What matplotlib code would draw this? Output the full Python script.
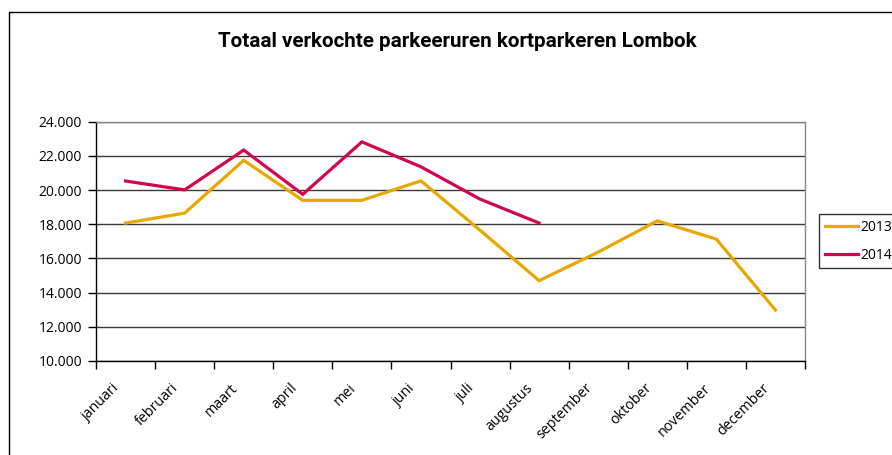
import matplotlib
matplotlib.use("Agg")
import matplotlib.pyplot as plt
from matplotlib.patches import Rectangle
from matplotlib.ticker import FuncFormatter, FixedLocator
from matplotlib.transforms import ScaledTranslation

months = ["januari", "februari", "maart", "april", "mei", "juni", "juli",
          "augustus", "september", "oktober", "november", "december"]
v2013 = [18070, 18650, 21740, 19400, 19400, 20540, 17650, 14700, 16370, 18200, 17130, 12980]
v2014 = [20530, 20010, 22340, 19750, 22820, 21360, 19470, 18070]
yticks = [10000, 12000, 14000, 16000, 18000, 20000, 22000, 24000]
title = "Totaal verkochte parkeeruren kortparkeren Lombok"

c2013 = "#E9A800"
c2014 = "#D2064F"

plt.rcParams['font.family'] = ['Open Sans', 'DejaVu Sans']

fig = plt.figure(figsize=(8.92, 4.55), dpi=100)
W, H = 892, 455
ax = fig.add_axes([96 / W, (H - 361) / H, (805 - 96) / W, (361 - 121.7) / H])

x = list(range(len(months)))
ax.plot(x, v2013, color=c2013, lw=2.3, label="2013", solid_joinstyle='miter')
ax.plot(x[:len(v2014)], v2014, color=c2014, lw=2.3, label="2014", solid_joinstyle='miter')

ax.set_xlim(-0.5, len(months) - 0.5)
ax.set_ylim(10000, 24000)
ax.set_yticks(yticks)
ax.yaxis.set_major_formatter(FuncFormatter(lambda v, p: f"{int(v):,}".replace(",", ".")))
ax.grid(axis='y', color='#3a3a3a', lw=1)
ax.set_axisbelow(True)

ax.set_xticks(x)
ax.set_xticklabels(months, rotation=45, ha='right', va='center', rotation_mode='anchor')
ax.xaxis.set_minor_locator(FixedLocator([i - 0.5 for i in range(len(months) + 1)]))
ax.tick_params(axis='x', which='major', length=0, pad=18, labelsize=10.3)
ax.tick_params(axis='x', which='minor', length=6, width=1, color='black', direction='out')
ax.tick_params(axis='y', length=6, width=1, color='black', labelsize=10, pad=4)
shift = ScaledTranslation(-8 / 100, 0, fig.dpi_scale_trans)
for lab in ax.get_xticklabels():
    lab.set_transform(lab.get_transform() + shift)

for s in ['left', 'bottom']:
    ax.spines[s].set_color('black')
    ax.spines[s].set_linewidth(1)
for s in ['right', 'top']:
    ax.spines[s].set_color('#888888')
    ax.spines[s].set_linewidth(1)

fig.text(457 / W, (H - 47) / H, title, ha='center', va='baseline',
         fontsize=14.9, fontweight='bold',
         family=['Roboto', 'Open Sans', 'DejaVu Sans'])

leg = fig.legend(loc='upper left', bbox_to_anchor=(819 / W, (H - 214) / H),
                 bbox_transform=fig.transFigure, frameon=True, fancybox=False,
                 edgecolor='black', fontsize=10, handlelength=2.4,
                 handletextpad=0.15, labelspacing=0.95, borderpad=0.4,
                 borderaxespad=0)
leg.get_frame().set_linewidth(1)

fig.patches.append(Rectangle((9 / W, -0.1), 2, (H - 12) / H + 0.1,
                             transform=fig.transFigure, fill=False,
                             edgecolor='black', lw=1))

fig.savefig("out.png", dpi=100)
